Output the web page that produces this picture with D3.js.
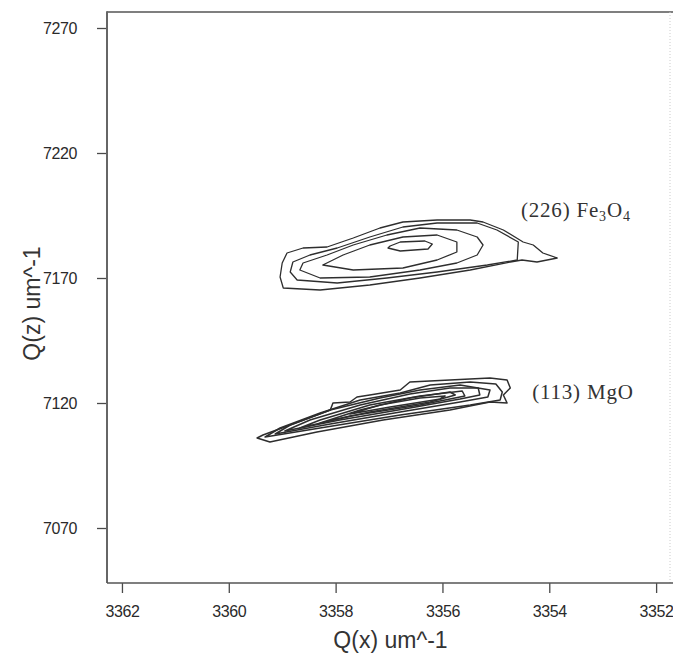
<!DOCTYPE html>
<html>
<head>
<meta charset="utf-8">
<script src="https://cdn.jsdelivr.net/npm/d3@7"></script>
<style>
  html, body { margin: 0; padding: 0; background: #fff; }
  svg { display: block; }
</style>
</head>
<body>
<svg id="chart" width="673" height="657"></svg>
<script>
// ---- data (Qx, Qz) ----
const xTickValues = [3362, 3360, 3358, 3356, 3354, 3352];
const yTickValues = [7070, 7120, 7170, 7220, 7270];
const xAxisTitle = "Q(x) um^-1";
const yAxisTitle = "Q(z) um^-1";

// (226) Fe3O4 contour rings, outermost first
const fe3o4Contours = [
  [[3359.04,7170.4],[3358.98,7166.0],[3358.29,7165.2],[3357.36,7167.2],[3356.42,7170.0],[3355.48,7173.2],[3354.73,7176.4],[3354.51,7177.2],[3354.23,7176.4],[3353.85,7178.0],[3354.12,7180.0],[3354.30,7183.2],[3354.49,7184.4],[3354.86,7189.2],[3355.24,7192.4],[3355.48,7193.2],[3356.10,7193.2],[3356.74,7192.4],[3357.17,7190.0],[3357.67,7186.0],[3358.16,7182.4],[3358.61,7182.0],[3358.91,7180.0],[3359.00,7176.0]],
  [[3358.85,7172.4],[3358.72,7169.2],[3357.97,7168.0],[3357.04,7170.0],[3356.10,7172.4],[3355.16,7175.2],[3354.60,7177.2],[3354.58,7184.4],[3354.98,7189.2],[3355.35,7192.0],[3356.10,7192.0],[3356.74,7190.4],[3357.36,7186.4],[3357.97,7182.0],[3358.48,7179.2],[3358.80,7176.4]],
  [[3358.67,7173.2],[3358.29,7170.0],[3357.36,7170.4],[3356.42,7173.2],[3355.73,7176.0],[3355.35,7179.2],[3355.24,7183.2],[3355.35,7186.4],[3355.73,7189.2],[3356.42,7190.0],[3357.04,7187.2],[3357.67,7183.2],[3358.16,7179.2],[3358.61,7176.0]],
  [[3358.24,7175.2],[3357.67,7173.2],[3356.74,7174.0],[3356.10,7177.2],[3355.73,7180.4],[3355.73,7184.4],[3356.10,7187.2],[3356.74,7186.4],[3357.36,7183.2],[3357.86,7179.2]],
  [[3356.98,7182.8],[3356.79,7184.4],[3356.33,7184.8],[3356.19,7183.6],[3356.27,7181.6],[3356.79,7180.8],[3357.02,7182.0]]
];

// (113) MgO contour rings, outermost first
const mgoContours = [
  [[3359.47,7106.0],[3359.23,7104.4],[3358.35,7108.4],[3357.11,7113.2],[3355.86,7117.2],[3355.11,7120.4],[3354.79,7120.0],[3354.86,7123.2],[3354.73,7126.0],[3354.79,7129.2],[3355.11,7130.0],[3355.86,7129.2],[3356.61,7128.4],[3356.79,7125.2],[3357.36,7123.2],[3357.60,7122.4],[3357.73,7120.4],[3358.05,7120.0],[3358.10,7117.2],[3358.35,7115.2],[3358.85,7111.2],[3359.36,7107.2]],
  [[3359.32,7106.4],[3358.29,7110.0],[3356.79,7115.2],[3355.48,7119.2],[3354.92,7121.2],[3354.88,7124.4],[3355.00,7127.6],[3355.48,7128.4],[3356.23,7127.2],[3356.79,7124.0],[3357.54,7121.2],[3358.29,7116.0],[3359.04,7110.0]],
  [[3359.13,7107.6],[3358.10,7111.6],[3356.79,7116.4],[3355.67,7120.4],[3355.15,7122.4],[3355.11,7125.2],[3355.67,7127.2],[3356.42,7125.2],[3357.17,7122.0],[3358.10,7117.2],[3358.85,7111.2]],
  [[3358.95,7108.8],[3357.92,7113.2],[3356.61,7118.0],[3355.67,7121.6],[3355.30,7123.2],[3355.33,7126.0],[3355.86,7126.0],[3356.61,7123.6],[3357.54,7119.2],[3358.48,7113.2]],
  [[3358.67,7110.0],[3357.73,7114.8],[3356.42,7119.2],[3355.58,7122.8],[3355.63,7124.8],[3356.42,7122.8],[3357.36,7119.2],[3358.29,7113.2]],
  [[3358.29,7112.0],[3357.36,7116.4],[3356.23,7120.4],[3355.76,7123.2],[3355.86,7124.4],[3356.61,7122.0],[3357.54,7117.2]],
  [[3357.73,7115.6],[3356.98,7118.4],[3356.04,7121.6],[3355.95,7122.8],[3356.42,7122.0],[3357.17,7119.2]]
];

// peak annotation anchors [Qx, Qz] (left / baseline)
const peakLabelAnchors = [[3354.53, 7194.4], [3354.32, 7121.6]];

// ---- drawing ----
const svg = d3.select("#chart");
const plotLeft = 107, plotRight = 670, plotTop = 12, plotBottom = 583;

const x = d3.scaleLinear().domain([3362.28, 3351.74]).range([plotLeft, plotRight]);
const y = d3.scaleLinear().domain([7048, 7276.4]).range([plotBottom, plotTop]);

const axisColor = "#4a4a4a";
const tickFont = "'Liberation Sans', Arial, sans-serif";

// frame
svg.append("line").attr("x1", plotLeft).attr("x2", plotRight + 3).attr("y1", plotTop).attr("y2", plotTop)
  .attr("stroke", "#555").attr("stroke-width", 1.6);
svg.append("line").attr("x1", plotRight).attr("x2", plotRight).attr("y1", plotTop).attr("y2", plotBottom)
  .attr("stroke", "#ccc").attr("stroke-width", 1).attr("stroke-dasharray", "1,2");

// y axis
const yAxis = d3.axisLeft(y).tickValues(yTickValues).tickSize(10).tickPadding(20).tickFormat(d3.format("d"));
const gy = svg.append("g").attr("transform", `translate(${plotLeft},0)`).call(yAxis);
gy.select(".domain").remove();
svg.append("line").attr("x1", plotLeft).attr("x2", plotLeft).attr("y1", plotTop - 0.8).attr("y2", plotBottom)
  .attr("stroke", "#666").attr("stroke-width", 2);

// x axis
const xAxis = d3.axisBottom(x).tickValues(xTickValues).tickSize(10).tickPadding(13).tickFormat(d3.format("d"));
const gx = svg.append("g").attr("transform", `translate(0,${plotBottom})`).call(xAxis);
gx.select(".domain").remove();
svg.append("line").attr("x1", plotLeft).attr("x2", plotRight + 3).attr("y1", plotBottom).attr("y2", plotBottom)
  .attr("stroke", "#555").attr("stroke-width", 1.6);

[gx, gy].forEach(g => {
  g.selectAll(".tick line").attr("stroke", axisColor).attr("stroke-width", 1.3);
  g.selectAll(".tick text").attr("fill", "#2a2a2a").attr("font-family", tickFont)
    .attr("font-size", 16).attr("letter-spacing", "-0.4px");
});

// axis titles
svg.append("text").attr("x", (plotLeft + plotRight) / 2 + 2).attr("y", 648)
  .attr("text-anchor", "middle").attr("font-family", tickFont).attr("font-size", 23)
  .attr("fill", "#333").text(xAxisTitle);
svg.append("text").attr("transform", `translate(40,${(plotTop + plotBottom) / 2 + 6}) rotate(-90)`)
  .attr("text-anchor", "middle").attr("font-family", tickFont).attr("font-size", 23)
  .attr("fill", "#333").text(yAxisTitle);

// contours
const line = d3.line().x(d => x(d[0])).y(d => y(d[1])).curve(d3.curveLinearClosed);
const cg = svg.append("g").attr("fill", "none").attr("stroke", "#2e2e2e")
  .attr("stroke-linejoin", "round");
cg.selectAll("path.fe").data(fe3o4Contours).join("path").attr("class", "fe")
  .attr("d", line).attr("stroke-width", 1.3);
cg.selectAll("path.mg").data(mgoContours).join("path").attr("class", "mg")
  .attr("d", line).attr("stroke-width", 1.5);

// annotations
const serif = "'Liberation Serif', 'Times New Roman', serif";
const feT = svg.append("text").attr("x", x(peakLabelAnchors[0][0])).attr("y", y(peakLabelAnchors[0][1]))
  .attr("font-family", serif).attr("font-size", 21).attr("letter-spacing", "0.8px").attr("fill", "#333");
feT.append("tspan").text("(226) Fe");
feT.append("tspan").attr("font-size", 14).attr("dy", 4).text("3");
feT.append("tspan").attr("dy", -4).text("O");
feT.append("tspan").attr("font-size", 14).attr("dy", 4).text("4");

svg.append("text").attr("x", x(peakLabelAnchors[1][0])).attr("y", y(peakLabelAnchors[1][1]))
  .attr("font-family", serif).attr("font-size", 21).attr("letter-spacing", "0.8px").attr("fill", "#333")
  .text("(113) MgO");
</script>
</body>
</html>
